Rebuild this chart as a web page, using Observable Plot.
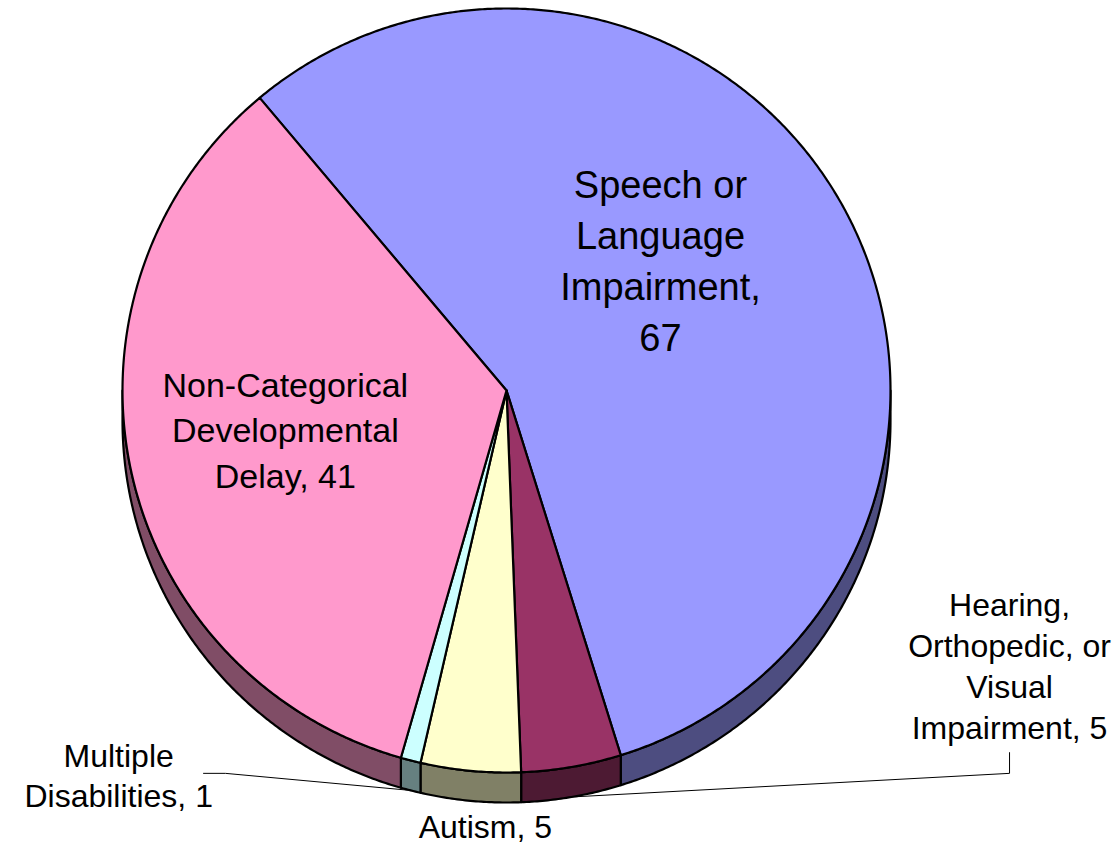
<!DOCTYPE html>
<html><head><meta charset="utf-8">
<script src="https://cdn.jsdelivr.net/npm/d3@7"></script>
<script src="https://cdn.jsdelivr.net/npm/@observablehq/plot@0.6"></script>
<style>body{margin:0;background:#fff}#chart{width:1118px;height:846px}</style>
</head><body><div id="chart"></div>
<script>
// ---- data ----
const categories = ["Speech or Language Impairment", "Hearing, Orthopedic, or Visual Impairment", "Autism", "Multiple Disabilities", "Non-Categorical Developmental Delay"];
const values = [67, 5, 5, 1, 41];
const labels = ["Speech or\nLanguage\nImpairment,\n67", "Hearing,\nOrthopedic, or\nVisual\nImpairment, 5", "Autism, 5", "Multiple\nDisabilities, 1", "Non-Categorical\nDevelopmental\nDelay, 41"];
const colors = ["#9999FF", "#993366", "#FFFFCC", "#CCFFFF", "#FF99CC"];

// ---- layout (pie-radius units; centre of pie = 0,0) ----
const W = 1118, H = 846, CX = 506, CY = 390, RX = 384, RY = 382, DEPTH = 30;
const K = RY / RX, D = DEPTH / RX;
const startDeg = -40;
const labelLayout = [
  {x: 0.401, y: 0.345, size: 38, lh: 1.34},
  {x: 1.310, y: -0.714, size: 32, lh: 1.28, leader: [[1.310, -0.943], [1.310, -0.997]]},
  {x: -0.055, y: -1.132, size: 32, lh: 1.25},
  {x: -1.010, y: -0.999, size: 32, lh: 1.25, leader: [[-0.789, -0.997], [-0.732, -0.997]]},
  {x: -0.576, y: -0.097, size: 34, lh: 1.34}
];

const a0 = startDeg * Math.PI / 180;
const arcs = d3.pie().sort(null).startAngle(a0).endAngle(a0 + 2 * Math.PI)(values);

function arcPoints(s, e, drop) {
  const n = Math.max(2, Math.ceil((e - s) / (0.4 * Math.PI / 180)));
  const pts = [];
  for (let i = 0; i <= n; i++) {
    const t = s + (e - s) * i / n;
    pts.push([Math.sin(t), K * Math.cos(t) - drop]);
  }
  return pts;
}

const topPts = [], sidePts = [], leaderPts = [];
arcs.forEach((a, i) => {
  const cat = categories[i];
  topPts.push({cat, x: 0, y: 0});
  for (const [x, y] of arcPoints(a.startAngle, a.endAngle, 0)) topPts.push({cat, x, y});
  // visible front side wall
  for (const k of [-1, 0, 1]) {
    const lo = Math.PI / 2 + k * 2 * Math.PI, hi = 3 * Math.PI / 2 + k * 2 * Math.PI;
    const s = Math.max(a.startAngle, lo), e = Math.min(a.endAngle, hi);
    if (e > s) {
      const key = cat + k;
      const upper = arcPoints(s, e, 0), lower = arcPoints(s, e, D).reverse();
      for (const [x, y] of upper.concat(lower)) sidePts.push({cat, key, x, y});
    }
  }
  const L = labelLayout[i];
  if (L.leader) {
    const m = (a.startAngle + a.endAngle) / 2;
    const pts = L.leader.concat([[Math.sin(m), K * Math.cos(m) - D]]);
    for (const [x, y] of pts) leaderPts.push({cat, x, y});
  }
});

const textMarks = labels.map((t, i) => Plot.text([{t, ...labelLayout[i]}], {
  x: "x", y: "y", text: "t", fontSize: labelLayout[i].size, lineHeight: labelLayout[i].lh,
  fontFamily: "Liberation Sans, Arial, sans-serif", textAnchor: "middle", lineAnchor: "middle", fill: "black"
}));

const chart = Plot.plot({
  width: W, height: H, margin: 0,
  x: {domain: [-CX / RX, (W - CX) / RX], axis: null},
  y: {domain: [-(H - CY) / RX, CY / RX], axis: null},
  color: {domain: categories, range: colors},
  style: {background: "white"},
  marks: [
    Plot.line(sidePts, {x: "x", y: "y", z: "key", fill: "black", stroke: "none", curve: "linear-closed"}),
    Plot.line(sidePts, {x: "x", y: "y", z: "key", fill: "cat", fillOpacity: 0.5, stroke: "black", strokeWidth: 2.2, curve: "linear-closed", strokeLinejoin: "round"}),
    Plot.line(topPts, {x: "x", y: "y", z: "cat", fill: "cat", stroke: "black", strokeWidth: 2.2, curve: "linear-closed", strokeLinejoin: "round"}),
    Plot.line(leaderPts, {x: "x", y: "y", z: "cat", stroke: "black", strokeWidth: 1}),
    ...textMarks
  ]
});
document.getElementById("chart").appendChild(chart);
</script>
</body></html>
